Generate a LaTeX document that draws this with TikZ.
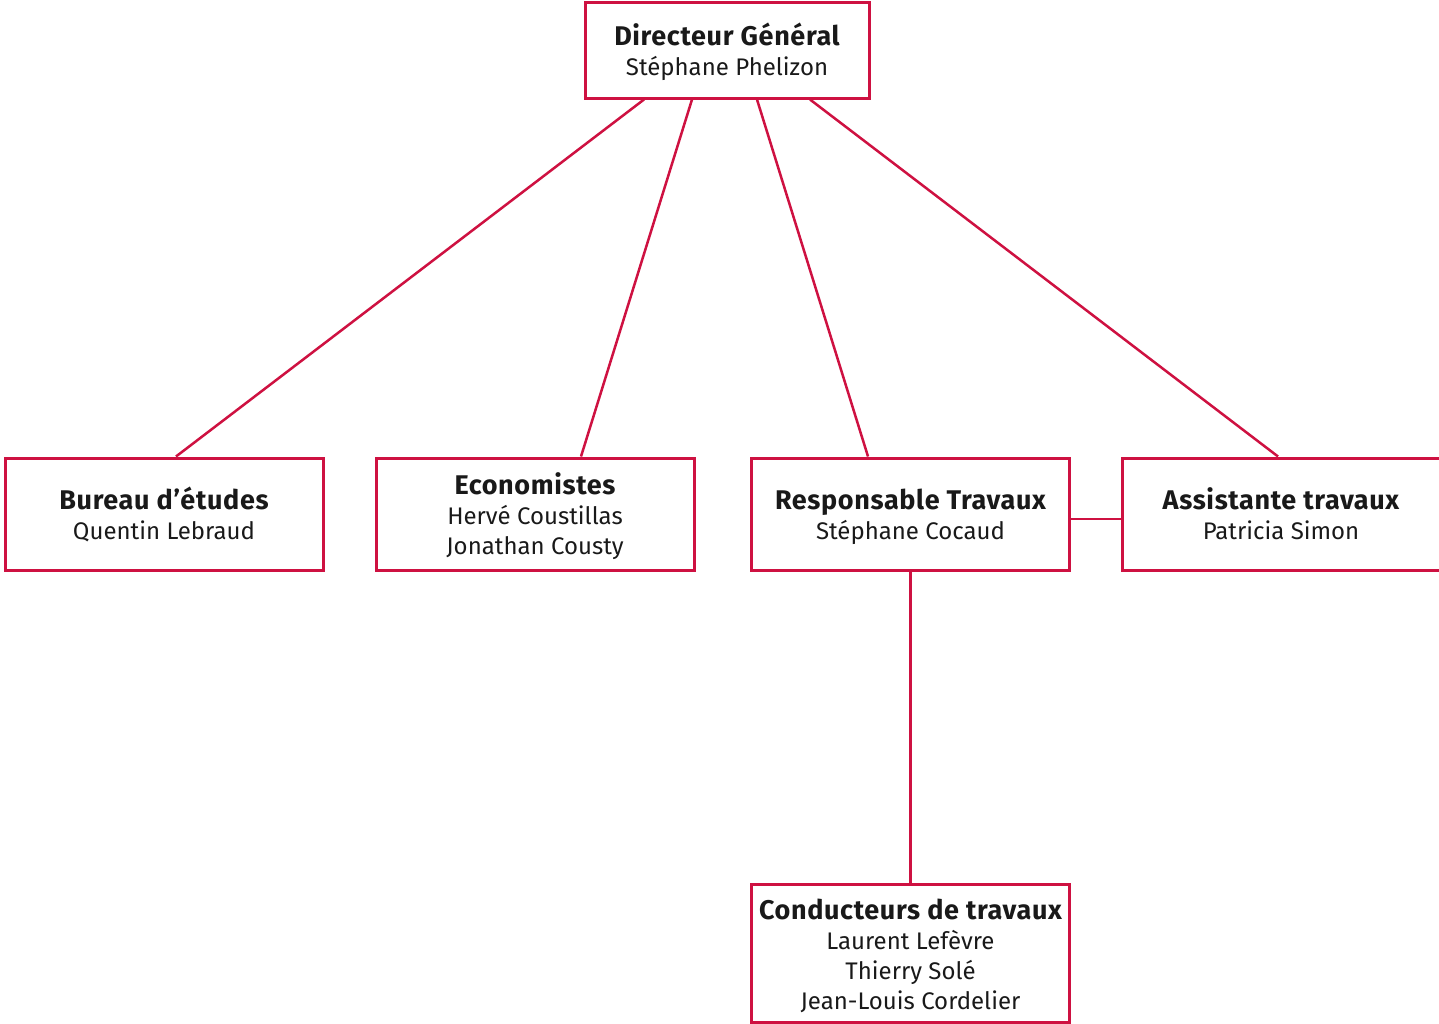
\documentclass[tikz,border=0pt]{standalone}
\usepackage{fontspec}
\setmainfont{Fira Sans}
\newfontfamily\headfont{Fira Sans}[LetterSpace=2.4]
\newcommand{\headline}[1]{{\headfont\bfseries\fontsize{13.5}{15}\selectfont\rule{0pt}{14pt}#1}}
\usetikzlibrary{positioning}
\definecolor{orgred}{RGB}{206,17,65}
\definecolor{orgtext}{RGB}{25,25,25}

\begin{document}
\begin{tikzpicture}[x=0.5pt,y=-0.5pt,
    every node/.style={rectangle,draw=orgred,line width=1.5pt,
        minimum width=159pt,minimum height=56pt,align=center,
        text=orgtext,font=\fontsize{12}{15}\selectfont,
        execute at end node={\rule[-3.5pt]{0pt}{3.5pt}}},
    link/.style={draw=orgred,line width=1.25pt}
]
    \useasboundingbox (0,0) rectangle (1439,1023);

    \node (dg) at (727,50) [minimum width=142pt,minimum height=48pt]
        {\headline{Directeur Général}\\Stéphane Phelizon};
    \node (bur) at (164,514) {\headline{Bureau d’études}\\Quentin Lebraud};
    \node (eco) at (535,514) {\headline{Economistes}\\Hervé Coustillas\\Jonathan Cousty};
    \node (resp) at (910.5,514) {\headline{Responsable Travaux}\\Stéphane Cocaud};
    \node (asst) at (1281,514) {\headline{Assistante travaux}\\Patricia Simon};
    \node (cond) at (910.5,953.5) [minimum height=68.5pt]
        {\headline{Conducteurs de travaux}\\Laurent Lefèvre\\Thierry Solé\\Jean-Louis Cordelier};

    \foreach \a/\b/\n in {-83/12/bur,-35/46/eco,30/-42.5/resp,83/-3/asst}
        \draw[link] ([shift={(\a,0)}]dg.south) -- ([shift={(\b,0)}]\n.north);
    \draw[link] ([shift={(0,5)}]resp.east) -- ([shift={(0,5)}]asst.west);
    \draw[link] (resp.south) -- (cond.north);
\end{tikzpicture}
\end{document}
